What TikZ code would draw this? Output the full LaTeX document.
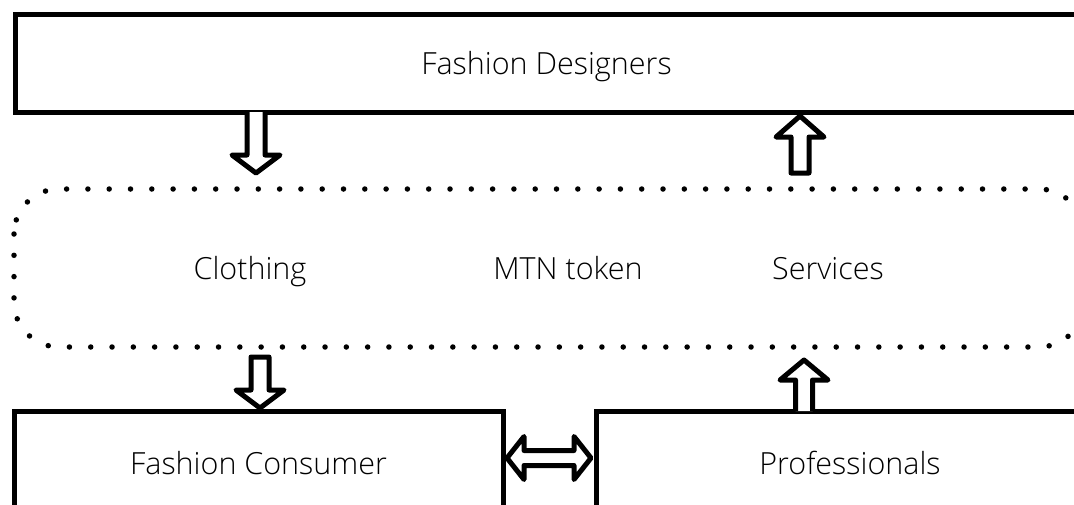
\documentclass[tikz,border=0pt]{standalone}
\usepackage{fontspec}
\setmainfont{Open Sans Light}
\begin{document}
\begin{tikzpicture}[x=1pt,y=-1pt,
  box/.style={draw, line width=5pt, fill=white, inner sep=0pt, text depth=0pt, font=\fontsize{30.5}{36}\selectfont},
  lbl/.style={inner sep=0pt, text depth=0pt, font=\fontsize{30.5}{36}\selectfont},
  blockarrow/.style={draw, line width=5pt, line join=round, fill=white},
  dotline/.style={line width=5.5pt, line cap=round, dash pattern=on 0pt off 21.3pt, rounded corners=45pt}]
\useasboundingbox (0,0) rectangle (1074,504);
\clip (0,0) rectangle (1074,504);
% boxes
\node[box, minimum width=1063pt, minimum height=98pt] (designers) at (546.5,63) {Fashion Designers};
\node[box, minimum width=489pt, minimum height=104pt] (consumer) at (258.5,463) {Fashion Consumer};
\node[box, minimum width=508pt, minimum height=104pt] (professionals) at (850,463) {Professionals};
% dotted token area
\draw[dotline] (14,189) rectangle (1084,347);
\node[lbl] (clothing) at (250,268) {Clothing};
\node[lbl] (token) at (568,268) {MTN token};
\node[lbl] (services) at (828,268) {Services};
% block arrows
\draw[blockarrow] (247,112) -- (247,155) -- (232,155) -- (256,173) -- (280,155) -- (265,155) -- (265,112);
\draw[blockarrow] (791,173) -- (791,137) -- (776,137) -- (800,116) -- (824,137) -- (809,137) -- (809,173) -- cycle;
\draw[blockarrow] (251,357) -- (251,390) -- (236,390) -- (260,408) -- (284,390) -- (269,390) -- (269,357) -- cycle;
\draw[blockarrow] (795.5,411) -- (795.5,380) -- (780,380) -- (804,360) -- (828,380) -- (812.5,380) -- (812.5,411);
\draw[blockarrow] (507,458) -- (524,436.5) -- (524,450.5) -- (574,450.5) -- (574,436.5) -- (591,458) -- (574,479.5) -- (574,465.5) -- (524,465.5) -- (524,479.5) -- cycle;
\end{tikzpicture}
\end{document}
